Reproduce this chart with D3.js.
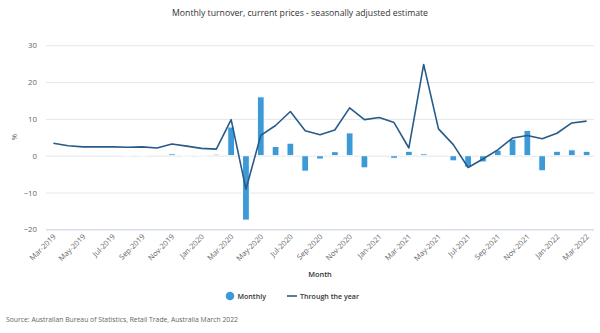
<!DOCTYPE html>
<html>
<head>
<meta charset="utf-8">
<script src="https://cdn.jsdelivr.net/npm/d3@7"></script>
<style>
  html, body { margin: 0; padding: 0; background: #fff; }
  svg { display: block; font-family: "Open Sans", "Noto Sans", sans-serif; }
</style>
</head>
<body>
<svg id="chart" width="600" height="333"></svg>
<script>
// Month labels, Mar-2019 to Mar-2022
const months = [
  "Mar-2019","Apr-2019","May-2019","Jun-2019","Jul-2019","Aug-2019","Sep-2019","Oct-2019","Nov-2019","Dec-2019",
  "Jan-2020","Feb-2020","Mar-2020","Apr-2020","May-2020","Jun-2020","Jul-2020","Aug-2020","Sep-2020","Oct-2020",
  "Nov-2020","Dec-2020","Jan-2021","Feb-2021","Mar-2021","Apr-2021","May-2021","Jun-2021","Jul-2021","Aug-2021",
  "Sep-2021","Oct-2021","Nov-2021","Dec-2021","Jan-2022","Feb-2022","Mar-2022"
];

// Monthly % change (columns)
const monthly = [
  0.0, 0.0, 0.0, 0.0, 0.0, 0.2, 0.2, 0.0, 0.5, -0.3,
  -0.3, 0.4, 7.8, -17.5, 16.0, 2.5, 3.4, -4.2, -0.9, 1.1,
  6.2, -3.3, 0.0, -0.7, 1.2, 0.5, 0.0, -1.4, -3.1, -1.7,
  1.5, 4.5, 6.9, -4.1, 1.2, 1.6, 1.2
];

// Through the year % change (line)
const throughYear = [
  3.4, 2.7, 2.4, 2.4, 2.4, 2.3, 2.4, 2.1, 3.2, 2.6,
  2.0, 1.8, 9.8, -9.1, 5.5, 8.2, 12.0, 6.8, 5.7, 7.0,
  13.0, 9.8, 10.4, 9.0, 2.1, 24.8, 7.3, 3.0, -3.2, -0.9,
  1.6, 4.8, 5.5, 4.6, 6.1, 8.9, 9.4
];

const yTicks = [-20, -10, 0, 10, 20, 30];

const barColor = "#3d9ad6";
const lineColor = "#285b88";

const svg = d3.select("#chart");
const plotLeft = 46, plotRight = 594, plotTop = 45.3, plotBottom = 229.3;

const x = d3.scaleBand().domain(months).range([plotLeft, plotRight]).padding(0);
const y = d3.scaleLinear().domain([-20, 30]).range([plotBottom, plotTop]);

// Title
svg.append("text")
  .attr("x", 300).attr("y", 16)
  .attr("text-anchor", "middle")
  .attr("font-size", 8.7).attr("font-weight", 500).attr("fill", "#333")
  .text("Monthly turnover, current prices - seasonally adjusted estimate");

// Horizontal gridlines + y labels
const yAxis = d3.axisLeft(y).tickValues(yTicks).tickSize(-(plotRight - plotLeft)).tickPadding(9);
const gy = svg.append("g").attr("transform", `translate(${plotLeft},0)`).call(yAxis);
gy.select(".domain").remove();
gy.selectAll(".tick line").attr("stroke", "#e6e6e6").attr("stroke-width", 1);
gy.selectAll(".tick text").attr("fill", "#666").attr("font-size", 7.8)
  .attr("font-family", "\"Open Sans\", sans-serif");

// Axis title "%"
svg.append("text")
  .attr("transform", `translate(17,${y(5)}) rotate(-90)`)
  .attr("text-anchor", "middle")
  .attr("font-size", 8).attr("fill", "#666")
  .text("%");

// X axis line
svg.append("line")
  .attr("x1", plotLeft).attr("x2", plotRight)
  .attr("y1", plotBottom + 0.5).attr("y2", plotBottom + 0.5)
  .attr("stroke", "#ccd6eb");

// X axis labels every second month
const xAxis = d3.axisBottom(x)
  .tickValues(months.filter((d, i) => i % 2 === 0))
  .tickSize(0).tickPadding(0);
const gx = svg.append("g").attr("transform", `translate(0,${plotBottom})`).call(xAxis);
gx.select(".domain").remove();
gx.selectAll(".tick text")
  .attr("fill", "#666").attr("font-size", 7.5)
  .attr("font-family", "\"Open Sans\", sans-serif")
  .attr("text-anchor", "end")
  .attr("dy", 0)
  .attr("transform", "translate(3,8) rotate(-45)");

// X axis title
svg.append("text")
  .attr("x", (plotLeft + plotRight) / 2).attr("y", 277)
  .attr("text-anchor", "middle")
  .attr("font-size", 7.4).attr("font-weight", 600).attr("fill", "#333")
  .text("Month");

// Columns
const bw = 6.8;
svg.append("g").selectAll("rect")
  .data(months)
  .join("rect")
  .attr("x", d => x(d) + x.bandwidth() / 2 - bw / 2)
  .attr("width", bw)
  .attr("y", (d, i) => Math.min(y(monthly[i]), y(0)))
  .attr("height", (d, i) => Math.abs(y(monthly[i]) - y(0)))
  .attr("fill", barColor)
  .attr("stroke", "#fff").attr("stroke-width", 1);

// Through the year line
const line = d3.line()
  .x((d, i) => x(months[i]) + x.bandwidth() / 2)
  .y(d => y(d));
svg.append("path")
  .datum(throughYear)
  .attr("d", line)
  .attr("fill", "none")
  .attr("stroke", lineColor)
  .attr("stroke-width", 1.6)
  .attr("stroke-linejoin", "round");

// Legend
const lg = svg.append("g").attr("font-size", 7.1).attr("font-weight", 600).attr("fill", "#333");
lg.append("circle").attr("cx", 230).attr("cy", 296).attr("r", 4.3).attr("fill", barColor);
lg.append("text").attr("x", 237.5).attr("y", 298.6).text("Monthly");
lg.append("line").attr("x1", 287).attr("x2", 297).attr("y1", 296).attr("y2", 296)
  .attr("stroke", lineColor).attr("stroke-width", 1.6);
lg.append("text").attr("x", 300).attr("y", 298.6).text("Through the year");

// Source note
svg.append("text")
  .attr("x", 6).attr("y", 322)
  .attr("font-size", 6.8).attr("fill", "#666")
  .text("Source: Australian Bureau of Statistics, Retail Trade, Australia March 2022");
</script>
</body>
</html>
